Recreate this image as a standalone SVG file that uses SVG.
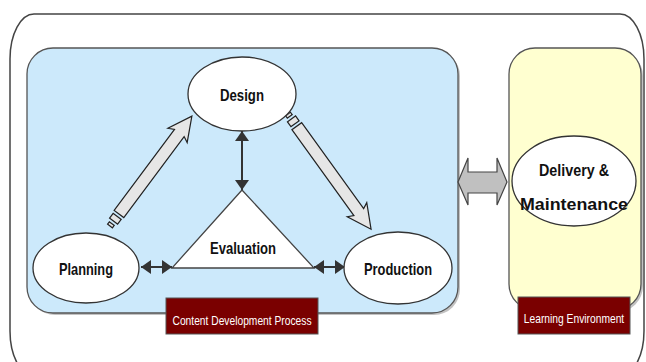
<svg xmlns="http://www.w3.org/2000/svg" width="646" height="362" viewBox="0 0 646 362">
<style>
.lbl{font-family:"Liberation Sans",Arial,sans-serif;font-weight:bold;fill:#111;text-anchor:middle;font-size:17px}
.tag{font-family:"Liberation Sans",Arial,sans-serif;fill:#fff;text-anchor:middle;font-size:13px}
.ell{fill:#fff;stroke:#333;stroke-width:1.3}
.block{fill:#e6e6e6;stroke:#222;stroke-width:1.2;stroke-linejoin:miter}
.dbl{stroke:#333;stroke-width:2;fill:none;marker-start:url(#ah);marker-end:url(#ah)}
.tagbox{fill:#7a0000;stroke:#555;stroke-width:1}
</style>
<defs>
<marker id="ah" markerUnits="userSpaceOnUse" viewBox="0 0 10 14" refX="10" refY="7" markerWidth="10" markerHeight="14" orient="auto-start-reverse">
<path d="M0,0 L10,7 L0,14 Z" fill="#333"/>
</marker>
</defs>
<rect width="646" height="362" fill="#fff"/>
<g id="outer">
<rect x="10" y="14" width="634" height="362" rx="24" ry="45" fill="#fff" stroke="#444" stroke-width="1.5"/>
</g>
<g id="content-box">
<rect x="29" y="50" width="431" height="265" rx="26" ry="26" fill="#999" opacity="0.6"/>
<rect x="27" y="48" width="431" height="265" rx="26" ry="26" fill="#cce9fb" stroke="#555" stroke-width="1.3"/>
</g>
<g id="learning-box">
<rect x="511" y="50" width="132" height="262" rx="26" ry="26" fill="#999" opacity="0.6"/>
<rect x="509" y="48" width="132" height="262" rx="26" ry="26" fill="#ffffd0" stroke="#555" stroke-width="1.3"/>
</g>
<g id="connectors">
<g transform="translate(110,226) rotate(-53.3)">
<polygon class="block" points="0,-3 3,-3 3,3 0,3"/>
<polygon class="block" points="6,-5 12,-5 12,5 6,5"/>
<polygon class="block" points="15,-6 116,-6 113,-12 137,0 113,12 116,6 15,6"/>
</g>
<g transform="translate(288,114) rotate(54.2)">
<polygon class="block" points="0,-3 3,-3 3,3 0,3"/>
<polygon class="block" points="6,-5 12,-5 12,5 6,5"/>
<polygon class="block" points="15,-6 121,-6 118,-12 142,0 118,12 121,6 15,6"/>
</g>
<line class="dbl" x1="141" y1="267" x2="172" y2="267"/>
<line class="dbl" x1="314" y1="267" x2="345" y2="267"/>
<line class="dbl" x1="242" y1="131" x2="242" y2="190"/>
<polygon points="458,182 468,158 468,172 497,172 497,158 507,182 497,205 497,193 468,193 468,205" fill="#c0c0c0" stroke="#444" stroke-width="1.2"/>
</g>
<g id="design">
<ellipse class="ell" cx="242" cy="94" rx="54" ry="37"/>
<text class="lbl" x="242" y="101" textLength="44" lengthAdjust="spacingAndGlyphs">Design</text>
</g>
<g id="planning">
<ellipse class="ell" cx="86" cy="268" rx="53" ry="35"/>
<text class="lbl" x="86" y="275" textLength="54" lengthAdjust="spacingAndGlyphs">Planning</text>
</g>
<g id="production">
<ellipse class="ell" cx="398" cy="268" rx="54" ry="36"/>
<text class="lbl" x="398" y="275" textLength="68" lengthAdjust="spacingAndGlyphs">Production</text>
</g>
<g id="evaluation">
<polygon points="242,190 172,268 314,268" fill="#fff" stroke="#444" stroke-width="1.3"/>
<text class="lbl" x="243" y="254" textLength="66" lengthAdjust="spacingAndGlyphs">Evaluation</text>
</g>
<g id="delivery">
<ellipse class="ell" cx="574" cy="181" rx="62" ry="45"/>
<text class="lbl" x="574" y="176" textLength="70" lengthAdjust="spacingAndGlyphs">Delivery &amp;</text>
<text class="lbl" x="574" y="210" textLength="108" lengthAdjust="spacingAndGlyphs">Maintenance</text>
</g>
<g id="tag-content">
<rect class="tagbox" x="166" y="298" width="152" height="36"/>
<text class="tag" x="242" y="325" textLength="139" lengthAdjust="spacingAndGlyphs">Content Development Process</text>
</g>
<g id="tag-learning">
<rect class="tagbox" x="518" y="297" width="112" height="37"/>
<text class="tag" transform="translate(574,323) scale(0.79,1)" x="0" y="0">Learning Environment</text>
</g>
</svg>
